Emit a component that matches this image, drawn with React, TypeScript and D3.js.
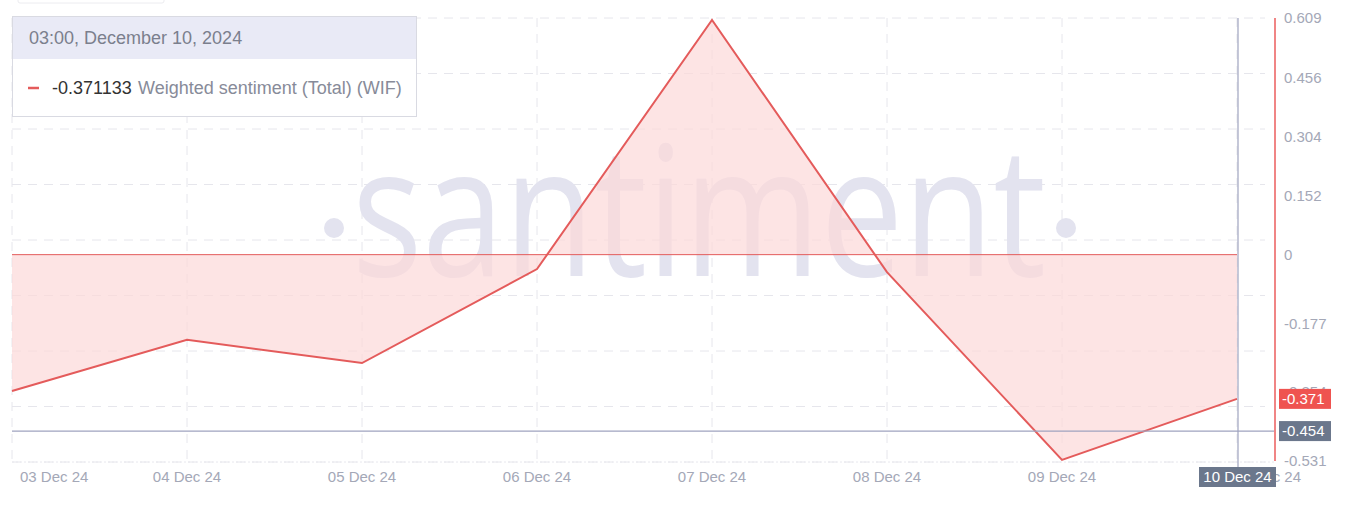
import React from "react";
import * as d3 from "d3";

const dates = ["2024-12-03T03:00", "2024-12-04T03:00", "2024-12-05T03:00", "2024-12-06T03:00", "2024-12-07T03:00", "2024-12-08T03:00", "2024-12-09T03:00", "2024-12-10T03:00"];
const values = [-0.351, -0.219, -0.279, -0.037, 0.604, -0.045, -0.528, -0.371133];
const xTickLabels = ["03 Dec 24", "04 Dec 24", "05 Dec 24", "06 Dec 24", "07 Dec 24", "08 Dec 24", "09 Dec 24", "10 Dec 24"];
const yTicks = [0.609, 0.456, 0.304, 0.152, 0, -0.177, -0.354, -0.531];
const crosshairValue = -0.454;
const lastValueLabel = "-0.371";
const crosshairLabel = "-0.454";
const tooltipDate = "03:00, December 10, 2024";
const tooltipValue = "-0.371133";
const seriesName = "Weighted sentiment (Total) (WIF)";

const W = 1346, H = 506;
const LEFT = 12, LAST_X = 1237, AXIS_X = 1275;
const TOP = 18, BOTTOM = 461;
const RED = "#e45b5b";
const FONT = "'Liberation Sans', Arial, sans-serif";
const AX_FS = 15;

export default function App() {
  const parse = d3.timeParse("%Y-%m-%dT%H:%M");
  const ds = dates.map((d) => parse(d) as Date);
  const x = d3.scaleTime().domain([ds[0], ds[ds.length - 1]]).range([LEFT, LAST_X]);
  const y = d3.scaleLinear().domain([-0.531, 0.609]).range([BOTTOM, TOP]);
  const pts = ds.map((d, i) => ({ d, v: values[i] }));
  const line = d3.line<any>().x((p) => x(p.d)).y((p) => y(p.v));
  const area = d3.area<any>().x((p) => x(p.d)).y0(y(0)).y1((p) => y(p.v));
  const gridYs = d3.range(9).map((i) => TOP + (i * (BOTTOM + 1 - TOP)) / 8);
  const y0 = y(0);

  return (
    <svg width={W} height={H} style={{ position: "absolute", left: 0, top: 0, background: "#fff" }} fontFamily={FONT}>
      <rect x={0} y={0} width={W} height={H} fill="#fff" />
      <rect x={18} y={-6} width={146} height={9} rx={2} fill="none" stroke="#ececf0" />
      {gridYs.map((gy, i) => (
        <line key={"h" + i} x1={LEFT} x2={AXIS_X - 10} y1={gy} y2={gy} stroke="#e6e6ec" strokeDasharray="9 7" />
      ))}
      {ds.map((d, i) => (
        <line key={"v" + i} x1={x(d)} x2={x(d)} y1={TOP} y2={BOTTOM + 1} stroke="#e6e6ec" strokeDasharray="9 7" />
      ))}
      <line x1={LEFT} x2={AXIS_X} y1={BOTTOM + 1} y2={BOTTOM + 1} stroke="#e8e8ee" strokeDasharray="2 2" />
      <text x={352} y={276} fontFamily="'Open Sans', sans-serif" fontSize={182} fill="#e3e3ef" textLength={694} lengthAdjust="spacingAndGlyphs">santiment</text>
      <circle cx={334} cy={228} r={10} fill="#e3e3ef" />
      <circle cx={1066} cy={228} r={10} fill="#e3e3ef" />
      <path d={area(pts) as string} fill="#fcd9d9" fillOpacity={0.7} />
      <line x1={LEFT} x2={LAST_X} y1={y0} y2={y0} stroke={RED} strokeWidth={1} />
      <path d={line(pts) as string} fill="none" stroke={RED} strokeWidth={2} />
      <line x1={LEFT} x2={AXIS_X} y1={y(crosshairValue)} y2={y(crosshairValue)} stroke="#9fa3bf" strokeWidth={1.2} />
      <line x1={LAST_X + 1} x2={LAST_X + 1} y1={TOP} y2={468} stroke="#9fa3bf" strokeWidth={1.2} />
      <line x1={AXIS_X} x2={AXIS_X} y1={TOP} y2={BOTTOM} stroke="#f08585" strokeWidth={2} />
      {yTicks.map((t, i) => (
        <text key={"yt" + i} x={1284} y={y(t)} dy="0.35em" fontSize={AX_FS} fill="#a4a8b7">{t === 0 ? "0" : t.toFixed(3)}</text>
      ))}
      {ds.map((d, i) => {
        const label = xTickLabels[i];
        if (i === 0) return <text key={"xt" + i} x={20} y={482} fontSize={AX_FS} fill="#a4a8b7">{label}</text>;
        if (i === ds.length - 1) return <text key={"xt" + i} x={1301} y={482} textAnchor="end" fontSize={AX_FS} fill="#a4a8b7">{label}</text>;
        return <text key={"xt" + i} x={x(d)} y={482} textAnchor="middle" fontSize={AX_FS} fill="#a4a8b7">{label}</text>;
      })}
      <rect x={1279} y={y(values[values.length - 1]) - 10} width={52} height={20} fill="#ef5350" />
      <text x={1282} y={y(values[values.length - 1])} dy="0.35em" fontSize={AX_FS} fill="#fff">{lastValueLabel}</text>
      <rect x={1279} y={y(crosshairValue) - 10} width={52} height={20} fill="#6b778c" />
      <text x={1282} y={y(crosshairValue)} dy="0.35em" fontSize={AX_FS} fill="#fff">{crosshairLabel}</text>
      <rect x={1199} y={467} width={77} height={20} fill="#6b778c" />
      <text x={1237.5} y={477} dy="0.35em" textAnchor="middle" fontSize={AX_FS} fill="#fff">{xTickLabels[xTickLabels.length - 1]}</text>
      <g>
        <rect x={12.5} y={16.5} width={404} height={100} fill="#fff" stroke="#d9dae2" />
        <rect x={13} y={17} width={403} height={42} fill="#e9eaf6" />
        <text x={29} y={44} fontSize={18} fill="#7b7f8d">{tooltipDate}</text>
        <line x1={28} x2={39} y1={88} y2={88} stroke={RED} strokeWidth={2.5} />
        <text x={52} y={94} fontSize={18} fill="#333">{tooltipValue}</text>
        <text x={138} y={94} fontSize={18} fill="#878b99">{seriesName}</text>
      </g>
    </svg>
  );
}
